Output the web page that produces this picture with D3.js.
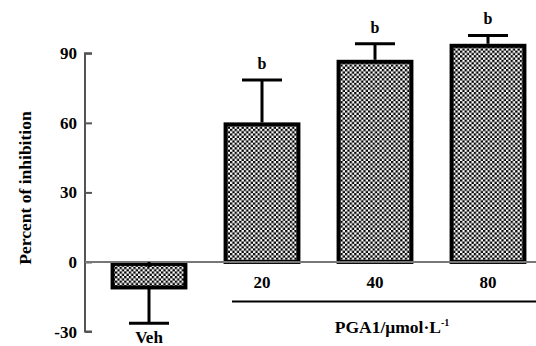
<!DOCTYPE html>
<html>
<head>
<meta charset="utf-8">
<script src="https://cdn.jsdelivr.net/npm/d3@7"></script>
<style>
  body { margin: 0; background: #fff; }
  text { font-family: "Liberation Serif", "Times New Roman", serif; font-weight: bold; }
</style>
</head>
<body>
<svg id="chart"></svg>
<script>
const categories = ['Veh', '20', '40', '80'];
const means = [-11, 60.2, 87.2, 94.1];
const errEnds = [-26.4, 78.5, 94.1, 97.7];
const sigLabels = ['', 'b', 'b', 'b'];
const yTicks = [-30, 0, 30, 60, 90];

const width = 536;
const height = 346;

const svg = d3.select('#chart')
  .attr('width', width)
  .attr('height', height);

// checker pattern for bar fill
const pat = svg.append('defs').append('pattern')
  .attr('id', 'checker')
  .attr('patternUnits', 'userSpaceOnUse')
  .attr('width', 4.6).attr('height', 4.6);
pat.append('rect').attr('width', 4.6).attr('height', 4.6).attr('fill', '#fff');
pat.append('rect').attr('width', 2.3).attr('height', 2.3).attr('fill', '#000');
pat.append('rect').attr('x', 2.3).attr('y', 2.3).attr('width', 2.3).attr('height', 2.3).attr('fill', '#000');

const y = d3.scaleLinear().domain([-30, 90]).range([331.5, 53.3]);
const x = d3.scaleBand().domain(categories)
  .range([92.5, 544.5])
  .paddingInner(0.32)
  .paddingOuter(0.16);

const axisX = 85;

// y axis
const yAxis = svg.append('g')
  .attr('transform', `translate(${axisX},0)`)
  .call(d3.axisRight(y).tickValues(yTicks).tickSize(7).tickFormat(''));
yAxis.select('.domain').attr('d', `M7,${y(-30)}H0V${y(90)}H7`).attr('stroke', '#555').attr('stroke-width', 2);
yAxis.selectAll('.tick line').attr('stroke', '#555').attr('stroke-width', 2);

svg.append('g').selectAll('text')
  .data(yTicks)
  .enter().append('text')
  .attr('x', 77)
  .attr('y', d => y(d) + 6)
  .attr('text-anchor', 'end')
  .attr('font-size', 17)
  .text(d => d);

svg.append('text')
  .attr('transform', `translate(31,${188}) rotate(-90)`)
  .attr('text-anchor', 'middle')
  .attr('font-size', 17.5)
  .text('Percent of inhibition');

// bars
const bw = x.bandwidth();
svg.append('g').selectAll('rect')
  .data(categories)
  .enter().append('rect')
  .attr('x', d => x(d) + 2)
  .attr('width', bw - 4)
  .attr('y', (d, i) => Math.min(y(means[i]), y(0)) + 2)
  .attr('height', (d, i) => Math.abs(y(means[i]) - y(0)) - 2)
  .attr('fill', 'url(#checker)')
  .attr('stroke', '#000')
  .attr('stroke-width', 4);

// zero line
svg.append('line')
  .attr('x1', axisX).attr('x2', width)
  .attr('y1', y(0)).attr('y2', y(0))
  .attr('stroke', '#777').attr('stroke-width', 2);

// error bars
const eb = svg.append('g').attr('stroke', '#000').attr('stroke-width', 3);
categories.forEach((c, i) => {
  const cx = x(c) + bw / 2;
  eb.append('line')
    .attr('x1', cx).attr('x2', cx)
    .attr('y1', y(means[i])).attr('y2', y(errEnds[i]));
  eb.append('line')
    .attr('x1', cx - 20).attr('x2', cx + 20)
    .attr('y1', y(errEnds[i])).attr('y2', y(errEnds[i]));
  if (means[i] < 0) {
    eb.append('line')
      .attr('x1', cx).attr('x2', cx)
      .attr('y1', y(0)).attr('y2', y(-2.2));
  }
});

// significance letters
svg.append('g').selectAll('text')
  .data(categories)
  .enter().append('text')
  .attr('x', d => x(d) + bw / 2)
  .attr('y', (d, i) => y(errEnds[i]) - 11)
  .attr('text-anchor', 'middle')
  .attr('font-size', 16)
  .text((d, i) => sigLabels[i]);

// category labels
svg.append('g').selectAll('text')
  .data(categories)
  .enter().append('text')
  .attr('x', d => x(d) + bw / 2)
  .attr('y', d => d === 'Veh' ? 343 : 288)
  .attr('text-anchor', 'middle')
  .attr('font-size', 17)
  .text(d => d);

// group bracket line and label
svg.append('line')
  .attr('x1', 232).attr('x2', width)
  .attr('y1', 301.5).attr('y2', 301.5)
  .attr('stroke', '#000').attr('stroke-width', 2);

const lbl = svg.append('text')
  .attr('x', 392)
  .attr('y', 333)
  .attr('text-anchor', 'middle')
  .attr('font-size', 17.5);
lbl.append('tspan').text('PGA1/μmol·L');
lbl.append('tspan').attr('dy', -7).attr('font-size', 10).text('-1');
</script>
</body>
</html>
